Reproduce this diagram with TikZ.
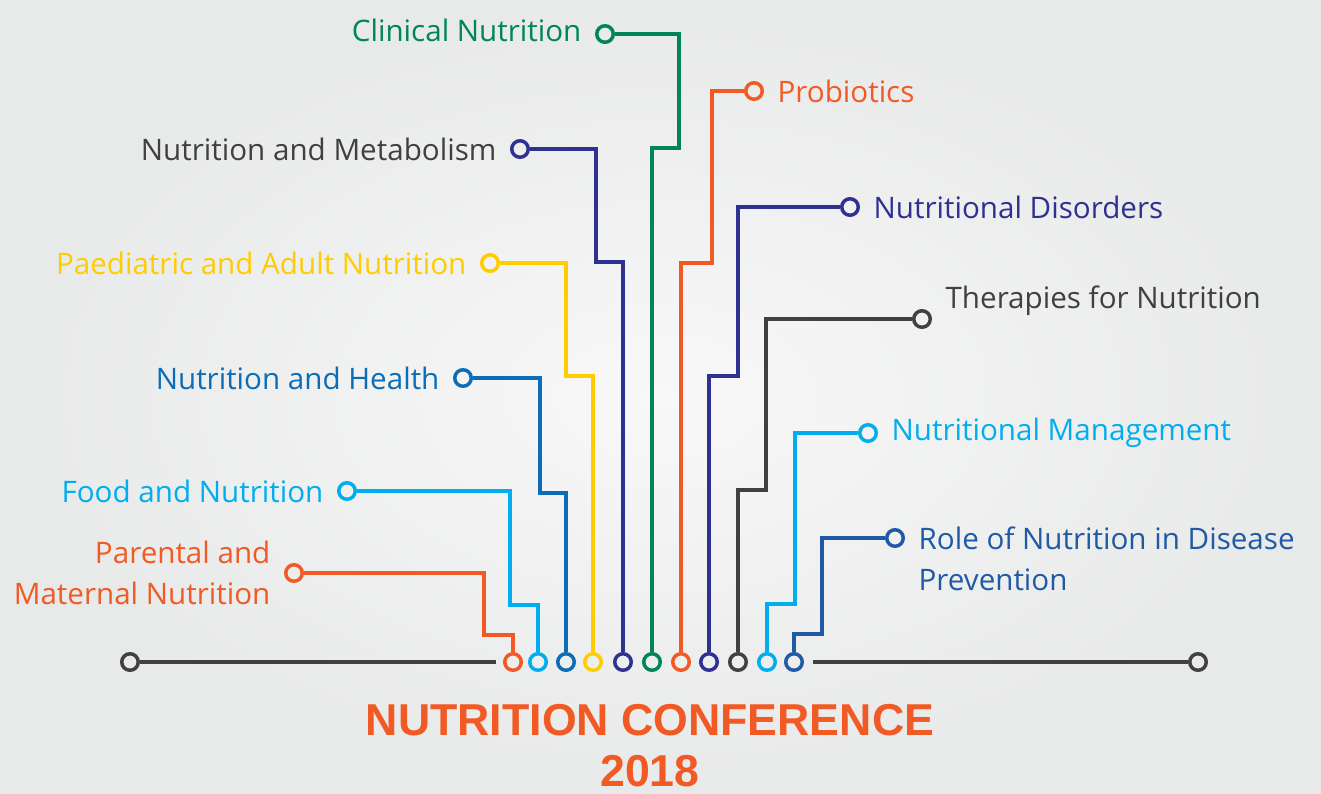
\documentclass[tikz,border=0pt]{standalone}
\usepackage{fontspec}
\setmainfont{Open Sans}
\newfontfamily\titlefont{Liberation Sans}
\usetikzlibrary{positioning}
\definecolor{corange}{HTML}{F15A24}
\definecolor{ccyan}{HTML}{00AEEF}
\definecolor{cblue}{HTML}{0B6DB7}
\definecolor{cyellow}{HTML}{FFCC00}
\definecolor{cindigo}{HTML}{2E3192}
\definecolor{cgreen}{HTML}{00855A}
\definecolor{cgray}{HTML}{404040}
\definecolor{crole}{HTML}{1F5AA6}
\definecolor{bgin}{HTML}{F8F8F8}
\definecolor{bgout}{HTML}{E8E9E9}
\tikzset{dot/.style={circle,draw=#1,line width=2.6pt,minimum size=12.4pt,inner sep=0pt},
  wire/.style={draw=#1,line width=2.6pt},
  topic/.style={text=#1,font=\fontsize{22.2}{31}\selectfont,inner sep=0pt},
  heading/.style={text=corange,font=\titlefont\bfseries\fontsize{33.5}{40}\selectfont,inner sep=0pt,anchor=base}}

\begin{document}
\begin{tikzpicture}[x=0.75pt,y=-0.75pt]
\useasboundingbox (0,0) rectangle (1321,793);
\shade [inner color=bgin,outer color=bgout] (0,0) rectangle (1321,793);
% base line
\node [dot=cgray] (left) at (130,662) {};
\node [dot=cgray] (right) at (1198,662) {};
\coordinate (lend) at (496,662);
\coordinate (rend) at (813,662);
\draw [wire=cgray] (left)--(lend);
\draw [wire=cgray] (rend)--(right);
% dots on the base line
\node [dot=corange] (b1) at (513,662) {};
\node [dot=ccyan] (b2) at (538,662) {};
\node [dot=cblue] (b3) at (566,662) {};
\node [dot=cyellow] (b4) at (593,662) {};
\node [dot=cindigo] (b5) at (623,662) {};
\node [dot=cgreen] (b6) at (652,662) {};
\node [dot=corange] (b7) at (681,662) {};
\node [dot=cindigo] (b8) at (709,662) {};
\node [dot=cgray] (b9) at (738,662) {};
\node [dot=ccyan] (b10) at (767,662) {};
\node [dot=crole] (b11) at (794,662) {};
% end dots
\node [dot=corange] (t1) at (294,573) {};
\node [dot=ccyan] (t2) at (347,491) {};
\node [dot=cblue] (t3) at (463,378) {};
\node [dot=cyellow] (t4) at (490,263) {};
\node [dot=cindigo] (t5) at (520,149) {};
\node [dot=cgreen] (t6) at (605,34) {};
\node [dot=corange] (t7) at (754,91) {};
\node [dot=cindigo] (t8) at (850,207) {};
\node [dot=cgray] (t9) at (922,319) {};
\node [dot=ccyan] (t10) at (868,433) {};
\node [dot=crole] (t11) at (895,538) {};
% wires
\draw [wire=corange] (b1) |- (484,635) |- (t1);
\draw [wire=ccyan] (b2) |- (510,605) |- (t2);
\draw [wire=cblue] (b3) |- (540,493) |- (t3);
\draw [wire=cyellow] (b4) |- (566,376) |- (t4);
\draw [wire=cindigo] (b5) |- (596,262) |- (t5);
\draw [wire=cgreen] (b6) |- (679,148) |- (t6);
\draw [wire=corange] (b7) |- (712,263) |- (t7);
\draw [wire=cindigo] (b8) |- (738,376) |- (t8);
\draw [wire=cgray] (b9) |- (766,490) |- (t9);
\draw [wire=ccyan] (b10) |- (795,604) |- (t10);
\draw [wire=crole] (b11) |- (822,634) |- (t11);
% labels
\node [topic=corange,left=10pt of t1,align=right] (l1) {Parental and\\Maternal Nutrition};
\node [topic=ccyan,left=10pt of t2] (l2) {Food and Nutrition};
\node [topic=cblue,left=10pt of t3] (l3) {Nutrition and Health};
\node [topic=cyellow,left=10pt of t4] (l4) {Paediatric and Adult Nutrition};
\node [topic=cgray,left=10pt of t5] (l5) {Nutrition and Metabolism};
\node [topic=cgreen,left=10pt of t6,yshift=3pt] (l6) {Clinical Nutrition};
\node [topic=corange,right=10pt of t7] (l7) {Probiotics};
\node [topic=cindigo,right=10pt of t8] (l8) {Nutritional Disorders};
\node [topic=cgray,right=10pt of t9,yshift=14pt] (l9) {Therapies for Nutrition};
\node [topic=ccyan,right=10pt of t10] (l10) {Nutritional Management};
\node [topic=crole,right=10pt of t11,yshift=-15.5pt,align=left] (l11) {Role of Nutrition in Disease\\Prevention};
% title
\node [heading] (title) at (650,735) {NUTRITION CONFERENCE};
\node [heading] (year) at (650,786) {2018};
\end{tikzpicture}
\end{document}
